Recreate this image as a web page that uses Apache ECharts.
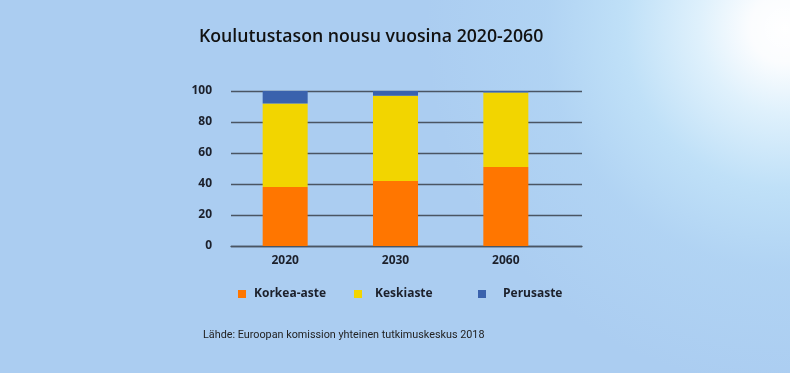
<!DOCTYPE html>
<html>
<head>
<meta charset="utf-8">
<script src="https://cdn.jsdelivr.net/npm/echarts@6/dist/echarts.min.js"></script>
<style>
  html, body { margin: 0; padding: 0; }
  body {
    width: 790px; height: 373px; overflow: hidden;
    background:
      radial-gradient(circle at 785px 28px, rgba(255,255,255,1) 0px, rgba(255,255,255,0.95) 35px, rgba(232,247,254,0.85) 85px, rgba(205,237,252,0.6) 160px, rgba(190,226,249,0.3) 240px, rgba(171,205,241,0) 360px),
      #abcdf1;
  }
  #chart { width: 790px; height: 373px; }
</style>
</head>
<body>
<div id="chart"></div>
<script>
const categories = ['2020', '2030', '2060'];
const korkeaAste = [38, 42, 51];
const keskiaste = [54, 55, 48];
const perusaste = [8, 3, 1];
const yTicks = { min: 0, max: 100, interval: 20 };
const titleText = 'Koulutustason nousu vuosina 2020-2060';
const sourceText = 'Lähde: Euroopan komission yhteinen tutkimuskeskus 2018';

const chart = echarts.init(document.getElementById('chart'), null, { renderer: 'canvas' });
const labelFont = { fontFamily: 'Open Sans', fontWeight: 'bold', fontSize: 12, color: '#1c202b' };
const lineStyle = { color: '#4a5563', width: 1.3 };

chart.setOption({
  backgroundColor: 'transparent',
  animation: false,
  title: {
    text: titleText,
    left: 194, top: 23,
    textStyle: { fontFamily: 'Open Sans', fontWeight: 600, fontSize: 17.7, color: '#111111' }
  },
  graphic: [{
    type: 'text', left: 203, top: 330,
    style: { text: sourceText, font: '10.8px Roboto', fill: '#222222' }
  }],
  legend: [
    { data: ['Korkea-aste'], left: 233, top: 283, itemWidth: 8, itemHeight: 8, icon: 'rect',
      textStyle: Object.assign({ padding: [0, 0, 0, 3] }, labelFont) },
    { data: ['Keskiaste'], left: 349, top: 283, itemWidth: 8, itemHeight: 8, icon: 'rect',
      textStyle: Object.assign({ padding: [0, 0, 0, 8] }, labelFont) },
    { data: ['Perusaste'], left: 473, top: 283, itemWidth: 8, itemHeight: 8, icon: 'rect',
      textStyle: Object.assign({ padding: [0, 0, 0, 12] }, labelFont) }
  ],
  grid: [
    { left: 230, width: 331, top: 91, height: 155 },
    { left: 231, width: 351, top: 91, height: 155 }
  ],
  xAxis: [
    { type: 'category', data: categories, gridIndex: 0,
      axisLine: { show: false }, axisTick: { show: false },
      axisLabel: Object.assign({ margin: 9 }, labelFont) },
    { type: 'value', gridIndex: 1, min: 0, max: 1, show: true,
      axisLine: { show: true, onZero: false, lineStyle: lineStyle },
      axisTick: { show: false }, axisLabel: { show: false }, splitLine: { show: false } }
  ],
  yAxis: [
    { type: 'value', gridIndex: 0, min: yTicks.min, max: yTicks.max, interval: yTicks.interval,
      show: false, splitLine: { show: false } },
    { type: 'value', gridIndex: 1, min: yTicks.min, max: yTicks.max, interval: yTicks.interval,
      axisLine: { show: false }, axisTick: { show: false },
      axisLabel: Object.assign({ margin: 19 }, labelFont),
      splitLine: { show: true, lineStyle: lineStyle } }
  ],
  series: [
    { name: 'Korkea-aste', type: 'bar', stack: 'total', xAxisIndex: 0, yAxisIndex: 0,
      barWidth: 45, data: korkeaAste, itemStyle: { color: '#ff7600' }, z: 3 },
    { name: 'Keskiaste', type: 'bar', stack: 'total', xAxisIndex: 0, yAxisIndex: 0,
      barWidth: 45, data: keskiaste, itemStyle: { color: '#f2d500' }, z: 3 },
    { name: 'Perusaste', type: 'bar', stack: 'total', xAxisIndex: 0, yAxisIndex: 0,
      barWidth: 45, data: perusaste, itemStyle: { color: '#3a62ad' }, z: 3 }
  ]
});
</script>
</body>
</html>
